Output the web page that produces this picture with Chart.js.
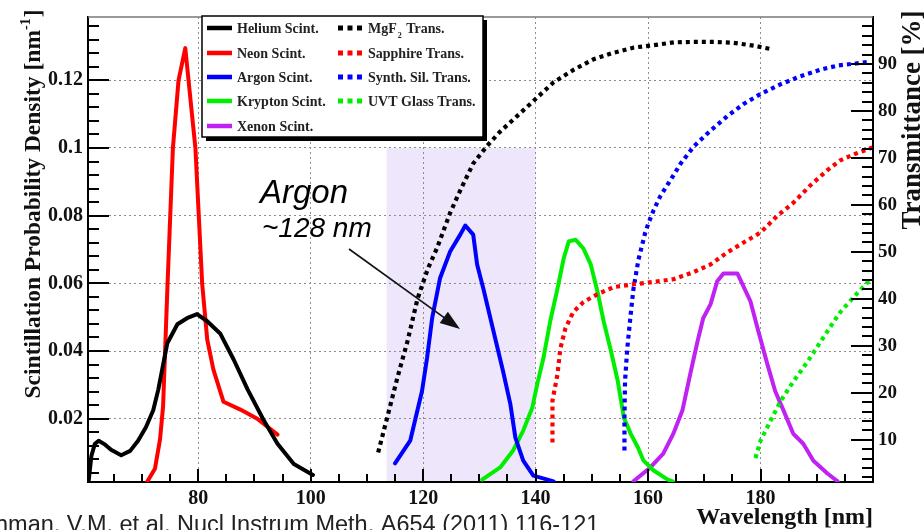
<!DOCTYPE html>
<html><head><meta charset="utf-8">
<script src="https://cdn.jsdelivr.net/npm/chart.js@4.4.1/dist/chart.umd.min.js"></script>
<style>html,body{margin:0;padding:0;background:#fff;overflow:hidden}</style>
</head><body>
<canvas id="c" width="924" height="530"></canvas>
<script>
// ---- Scintillation spectra (left axis, nm^-1) ----
const heliumX = [60.5, 61.0, 61.6, 62.3, 63.3, 64.5, 66.3, 67.9, 69.3, 70.7, 72.0, 72.9, 74.5, 76.3, 78.0, 79.8, 81.6, 83.9, 86.3, 88.8, 91.6, 94.1, 97.0, 100.4];
const heliumY = [0.0013, 0.009, 0.0125, 0.0135, 0.0125, 0.0108, 0.0092, 0.0105, 0.0135, 0.0175, 0.0225, 0.0286, 0.0423, 0.0479, 0.0497, 0.0509, 0.0488, 0.0452, 0.0375, 0.0286, 0.0197, 0.0126, 0.0066, 0.0034];
const neonX = [70.9, 72.3, 73.2, 73.75, 74.55, 75.5, 76.5, 77.7, 79.5, 80.7, 81.6, 82.7, 84.5, 87.5, 90.5, 94.1];
const neonY = [0.0013, 0.0052, 0.0138, 0.0236, 0.06, 0.1, 0.12, 0.1295, 0.1, 0.06, 0.0434, 0.0345, 0.025, 0.0227, 0.02, 0.0153];
const argonX = [115.0, 117.7, 119.8, 120.7, 121.6, 123.0, 124.8, 126.6, 127.5, 128.9, 129.6, 130.7, 132.5, 134.2, 135.5, 136.4, 137.8, 139.6, 143.2];
const argonY = [0.0068, 0.0135, 0.0282, 0.038, 0.0497, 0.0615, 0.0694, 0.0744, 0.0771, 0.0744, 0.0656, 0.0585, 0.0459, 0.0341, 0.0244, 0.0144, 0.0076, 0.0032, 0.0015];
const kryptonX = [130.5, 133.7, 136.0, 137.8, 139.4, 140.3, 141.4, 142.6, 143.9, 145.0, 145.9, 147.1, 148.5, 149.8, 151.0, 152.1, 153.4, 154.6, 155.7, 156.9, 158.2, 159.2, 161.0, 163.5, 164.4];
const kryptonY = [0.002, 0.0056, 0.0106, 0.0165, 0.0232, 0.0303, 0.038, 0.0488, 0.0585, 0.0674, 0.0724, 0.0729, 0.0703, 0.0656, 0.0576, 0.0488, 0.04, 0.0312, 0.0203, 0.0156, 0.0115, 0.0076, 0.0047, 0.002, 0.0015];
const xenonX = [157.4, 160.4, 162.7, 164.5, 166.1, 167.5, 168.8, 169.8, 171.1, 172.3, 173.4, 175.9, 176.8, 178.2, 179.6, 181.2, 182.6, 184.1, 185.8, 187.6, 189.4, 191.9, 193.7];
const xenonY = [0.0015, 0.0056, 0.0097, 0.0156, 0.0224, 0.0332, 0.0429, 0.0497, 0.0538, 0.0606, 0.0629, 0.0629, 0.0597, 0.0547, 0.0459, 0.0362, 0.0282, 0.0224, 0.0156, 0.0126, 0.0076, 0.0038, 0.0015];

// ---- Window transmittance (right axis, %) ----
const mgf2X = [112.0, 113.6, 115.4, 117.2, 119.0, 120.8, 122.5, 124.8, 126.6, 128.9, 131.4, 133.7, 136.7, 139.6, 143.2, 146.8, 150.3, 153.9, 157.5, 161.0, 164.6, 168.1, 171.7, 175.2, 178.8, 182.1];
const mgf2T = [7.3, 14.7, 23.1, 30.9, 40.0, 46.3, 50.9, 58.3, 63.1, 68.8, 72.6, 75.6, 78.9, 82.1, 86.1, 88.8, 91.0, 92.4, 93.5, 94.0, 94.6, 94.7, 94.7, 94.5, 93.9, 93.1];
const sapphireX = [143.0, 143.0, 143.9, 144.4, 145.3, 146.7, 148.5, 151.0, 153.9, 157.5, 161.0, 164.6, 168.1, 171.1, 174.1, 177.0, 180.0, 183.0, 185.8, 188.9, 191.9, 194.2, 196.9, 199.9];
const sapphireT = [9.4, 18.3, 24.0, 29.4, 33.7, 37.2, 39.3, 41.0, 42.5, 43.1, 43.6, 44.2, 45.7, 47.3, 49.9, 52.0, 54.1, 57.7, 60.4, 64.2, 67.4, 69.5, 70.9, 72.2];
const silicaX = [155.8, 155.8, 155.9, 156.3, 156.9, 157.4, 158.3, 159.5, 160.1, 161.0, 162.2, 164.0, 165.8, 168.1, 171.1, 174.1, 177.0, 180.0, 183.6, 187.1, 190.7, 193.9, 196.9, 199.6];
const silicaT = [7.7, 14.7, 22.5, 29.4, 36.6, 42.1, 48.4, 54.1, 56.2, 58.9, 61.9, 65.3, 68.8, 72.4, 75.8, 78.9, 81.5, 83.6, 85.7, 87.4, 88.8, 89.7, 90.1, 90.5];
const uvtX = [179.1, 180.0, 181.8, 183.6, 185.9, 188.4, 190.7, 193.0, 194.2, 196.9, 199.6];
const uvtT = [6.1, 9.8, 14.1, 18.3, 22.5, 26.7, 30.9, 35.1, 37.2, 40.8, 44.2];

// ---- Axes / ticks / labels ----
const xRange = [60.4, 200];
const yRange = [0.0013, 0.1387];
const tRange = [1, 100];
const xMajorTicks = [80, 100, 120, 140, 160, 180];
const yMajorTicks = [0.02, 0.04, 0.06, 0.08, 0.1, 0.12];
const tMajorTicks = [10, 20, 30, 40, 50, 60, 70, 80, 90];
const argonBand = [113.5, 140, 0.1];

const scintNames = ['Helium Scint.', 'Neon Scint.', 'Argon Scint.', 'Krypton Scint.', 'Xenon Scint.'];
const transNames = ['MgF|2| Trans.', 'Sapphire Trans.', 'Synth. Sil. Trans.', 'UVT Glass Trans.'];
const colors = ['#000000', '#ff0000', '#0000ff', '#00ee00', '#bf22f2'];
const xTitle = 'Wavelength [nm]';
const yTitle = 'Scintillation Probability Density [nm';
const tTitle = 'Transmittance [%]';
const noteBig = 'Argon';
const noteSmall = '~128 nm';
const citation = 'hman, V.M. et al. Nucl Instrum Meth. A654 (2011) 116-121';

const SERIF = '"Liberation Serif", "Times New Roman", serif';
const SANS = '"Liberation Sans", Arial, sans-serif';
const pts = (xs, ys) => xs.map((x, i) => ({x: x, y: ys[i]}));

const scintSets = [[heliumX, heliumY], [neonX, neonY], [argonX, argonY], [kryptonX, kryptonY], [xenonX, xenonY]];
const transSets = [[mgf2X, mgf2T], [sapphireX, sapphireT], [silicaX, silicaT], [uvtX, uvtT]];

const datasets = [];
transSets.forEach((s, i) => datasets.push({
  label: transNames[i].replace(/\|/g, ''), data: pts(s[0], s[1]), yAxisID: 'y2',
  borderColor: colors[i], borderWidth: 4.2, borderDash: [4, 4], borderCapStyle: 'butt',
  pointRadius: 0, tension: 0, fill: false
}));
scintSets.forEach((s, i) => datasets.push({
  label: scintNames[i], data: pts(s[0], s[1]), yAxisID: 'y',
  borderColor: colors[i], borderWidth: 4, borderJoinStyle: 'round', borderCapStyle: 'round',
  pointRadius: 0, tension: 0, fill: false
}));

const keepOnly = list => s => { s.ticks = s.ticks.filter(t => list.some(v => Math.abs(v - t.value) < 1e-6)); };
const tickFont = {family: SERIF, size: 20, weight: 'bold'};

const decor = {
  id: 'decor',
  beforeDraw(chart) {
    const {ctx, chartArea: a, scales: {x, y}} = chart;
    ctx.save();
    ctx.fillStyle = '#fff';
    ctx.fillRect(0, 0, chart.width, chart.height);
    const x0 = x.getPixelForValue(argonBand[0]), x1 = x.getPixelForValue(argonBand[1]);
    const yt = y.getPixelForValue(argonBand[2]);
    ctx.fillStyle = '#eee6fb';
    ctx.fillRect(x0, yt, x1 - x0, a.bottom - yt);
    ctx.restore();
  },
  afterDatasetsDraw(chart) {
    const {ctx, chartArea: a, scales: {x, y, y2}} = chart;
    ctx.save();
    // top frame
    ctx.strokeStyle = '#777'; ctx.lineWidth = 1.5;
    ctx.beginPath(); ctx.moveTo(a.left, a.top); ctx.lineTo(a.right, a.top); ctx.stroke();
    // inward ticks
    ctx.strokeStyle = '#000'; ctx.lineWidth = 2;
    ctx.beginPath();
    for (let v = 65; v <= 195; v += 5) {
      const p = Math.round(x.getPixelForValue(v));
      const len = v % 20 === 0 ? 13 : 8;
      ctx.moveTo(p, a.bottom); ctx.lineTo(p, a.bottom - len);
    }
    for (let k = 1; k <= 34; k++) {
      const p = Math.round(y.getPixelForValue(k * 0.004));
      const len = k % 5 === 0 ? 21 : 11;
      ctx.moveTo(a.left, p); ctx.lineTo(a.left + len, p);
    }
    for (let k = 1; k <= 49; k++) {
      const v = 2 * k;
      const p = Math.round(y2.getPixelForValue(v));
      const len = v % 10 === 0 ? 22 : 11;
      ctx.moveTo(a.right, p); ctx.lineTo(a.right - len, p);
    }
    ctx.stroke();

    // legend
    const L = 202, T = 16, W = 281, H = 121;
    ctx.fillStyle = '#000'; ctx.fillRect(L + 4, T + 4, W, H);
    ctx.fillStyle = '#fff'; ctx.fillRect(L, T, W, H);
    ctx.strokeStyle = '#000'; ctx.lineWidth = 1.5; ctx.strokeRect(L, T, W, H);
    const rows = [28, 53, 77, 101, 126];
    ctx.font = 'bold 14px ' + SERIF; ctx.textBaseline = 'middle'; ctx.textAlign = 'left';
    scintNames.forEach((n, i) => {
      ctx.strokeStyle = colors[i]; ctx.lineWidth = 4.5; ctx.lineCap = 'butt';
      ctx.beginPath(); ctx.moveTo(207, rows[i]); ctx.lineTo(232, rows[i]); ctx.stroke();
      ctx.fillStyle = '#222'; ctx.fillText(n, 237, rows[i] + 1);
    });
    transNames.forEach((n, i) => {
      ctx.fillStyle = colors[i];
      [338, 347.5, 357].forEach(px => ctx.fillRect(px, rows[i] - 2.5, 5, 5));
      ctx.fillStyle = '#222';
      const parts = n.split('|');
      let cx = 368;
      ctx.font = 'bold 14px ' + SERIF;
      ctx.fillText(parts[0], cx, rows[i] + 1); cx += ctx.measureText(parts[0]).width;
      if (parts.length > 1) {
        ctx.font = 'bold 8px ' + SERIF;
        ctx.fillText(parts[1], cx + 1, rows[i] + 8); cx += ctx.measureText(parts[1]).width + 2;
        ctx.font = 'bold 14px ' + SERIF;
        ctx.fillText(parts[2], cx, rows[i] + 1);
      }
    });

    // annotation
    ctx.fillStyle = '#000'; ctx.textBaseline = 'alphabetic';
    ctx.font = 'italic 33px ' + SANS; ctx.fillText(noteBig, 260, 203);
    ctx.font = 'italic 28px ' + SANS; ctx.fillText(noteSmall, 262, 237);
    const sx = 349, sy = 249, ex = 460, ey = 329;
    const ang = Math.atan2(ey - sy, ex - sx);
    ctx.strokeStyle = '#111'; ctx.lineWidth = 1.6;
    ctx.beginPath(); ctx.moveTo(sx, sy);
    ctx.lineTo(ex - 14 * Math.cos(ang), ey - 14 * Math.sin(ang)); ctx.stroke();
    ctx.fillStyle = '#111';
    ctx.beginPath(); ctx.moveTo(ex, ey);
    ctx.lineTo(ex - 20 * Math.cos(ang) + 7 * Math.sin(ang), ey - 20 * Math.sin(ang) - 7 * Math.cos(ang));
    ctx.lineTo(ex - 20 * Math.cos(ang) - 7 * Math.sin(ang), ey - 20 * Math.sin(ang) + 7 * Math.cos(ang));
    ctx.closePath(); ctx.fill();

    // axis titles
    ctx.fillStyle = '#111';
    ctx.font = 'bold 24px ' + SERIF; ctx.textAlign = 'right'; ctx.textBaseline = 'alphabetic';
    ctx.fillText(xTitle, a.right, 524);

    ctx.save();
    ctx.translate(40, 0); ctx.rotate(-Math.PI / 2);
    ctx.textAlign = 'left';
    ctx.font = 'bold 23.5px ' + SERIF;
    const w1 = ctx.measureText(yTitle).width;
    ctx.font = 'bold 14px ' + SERIF;
    const w2 = ctx.measureText('-1').width;
    ctx.font = 'bold 23.5px ' + SERIF;
    const w3 = ctx.measureText(']').width;
    let st = -204 - (w1 + w2 + w3 + 1) / 2;
    ctx.fillText(yTitle, st, 0); st += w1;
    ctx.font = 'bold 14px ' + SERIF; ctx.fillText('-1', st, -10); st += w2 + 1;
    ctx.font = 'bold 23.5px ' + SERIF; ctx.fillText(']', st, 0);
    ctx.restore();

    ctx.save();
    ctx.translate(920, 120); ctx.rotate(-Math.PI / 2);
    ctx.textAlign = 'center'; ctx.font = 'bold 27px ' + SERIF;
    ctx.fillText(tTitle, 0, 0);
    ctx.restore();

    // citation
    ctx.textAlign = 'left'; ctx.fillStyle = '#222';
    ctx.font = '23.5px ' + SANS; ctx.fillText(citation, -5, 532);
    ctx.restore();
  }
};

new Chart(document.getElementById('c'), {
  type: 'line',
  data: {datasets},
  plugins: [decor],
  options: {
    responsive: false, animation: false, events: [],
    layout: {padding: {top: 12, left: 0, right: 0, bottom: 0}},
    plugins: {legend: {display: false}, tooltip: {enabled: false}},
    scales: {
      x: {
        type: 'linear', min: xRange[0], max: xRange[1],
        ticks: {stepSize: 20, includeBounds: false, font: tickFont, color: '#111', padding: 5, maxRotation: 0, autoSkip: false},
        afterBuildTicks: keepOnly(xMajorTicks), afterFit: s => { s.height = 48; },
        grid: {color: '#8c8c8c', lineWidth: 1, drawTicks: false},
        border: {color: '#000', width: 2, dash: [2, 3]}
      },
      y: {
        type: 'linear', position: 'left', min: yRange[0], max: yRange[1],
        ticks: {stepSize: 0.02, includeBounds: false, font: tickFont, color: '#111', padding: 5,
          callback: v => String(parseFloat(v.toFixed(3)))},
        afterBuildTicks: keepOnly(yMajorTicks), afterFit: s => { s.width = 88; },
        grid: {color: '#8c8c8c', lineWidth: 1, drawTicks: false},
        border: {color: '#000', width: 2, dash: [2, 3]}
      },
      y2: {
        type: 'linear', position: 'right', min: tRange[0], max: tRange[1],
        ticks: {stepSize: 10, includeBounds: false, font: {family: SERIF, size: 19, weight: 'bold'}, color: '#111', padding: 5},
        afterBuildTicks: keepOnly(tMajorTicks), afterFit: s => { s.width = 51; },
        grid: {display: false, drawTicks: false},
        border: {color: '#000', width: 2}
      }
    }
  }
});
</script>
</body></html>
